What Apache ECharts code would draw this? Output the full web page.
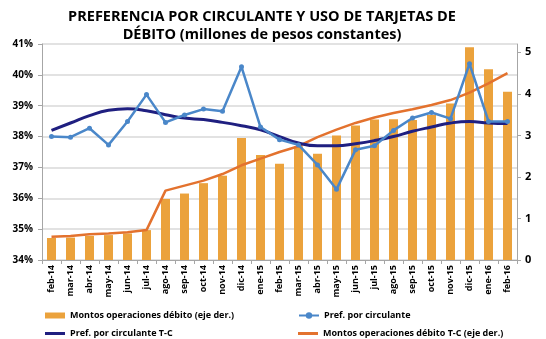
<!DOCTYPE html>
<html>
<head>
<meta charset="utf-8">
<script src="https://cdn.jsdelivr.net/npm/echarts@6/dist/echarts.min.js"></script>
<style>
  html, body { margin: 0; padding: 0; background: #fff; }
  #chart { width: 546px; height: 339px; }
</style>
</head>
<body>
<div id="chart"></div>
<script>
// Monthly categories, Feb 2014 – Feb 2016
const months = ['feb-14','mar-14','abr-14','may-14','jun-14','jul-14','ago-14','sep-14','oct-14','nov-14','dic-14','ene-15','feb-15',
  'mar-15','abr-15','may-15','jun-15','jul-15','ago-15','sep-15','oct-15','nov-15','dic-15','ene-16','feb-16'];

// Debit card transaction amounts (right axis, millions of constant pesos)
const montosDebito = [0.53,0.54,0.58,0.60,0.64,0.72,1.47,1.60,1.85,2.03,2.94,2.53,2.32,
  2.74,2.56,3.00,3.24,3.38,3.39,3.37,3.49,3.77,5.12,4.59,4.05];

// Trend-cycle of debit amounts (right axis)
const montosDebitoTC = [0.56,0.58,0.62,0.64,0.67,0.72,1.67,1.79,1.91,2.07,2.28,2.44,2.60,
  2.74,2.96,3.14,3.30,3.43,3.54,3.63,3.73,3.85,4.03,4.25,4.50];

// Cash preference (left axis, %)
const prefCirculante = [38.00,37.98,38.27,37.73,38.49,39.36,38.46,38.70,38.89,38.82,40.26,38.31,37.90,
  37.73,37.08,36.29,37.57,37.70,38.20,38.60,38.78,38.58,40.36,38.49,38.49];

// Trend-cycle of cash preference (left axis, %)
const prefCirculanteTC = [38.20,38.44,38.68,38.85,38.90,38.84,38.71,38.60,38.55,38.46,38.35,38.22,38.00,
  37.79,37.70,37.70,37.77,37.87,38.00,38.17,38.31,38.44,38.49,38.44,38.42];

const leftTicks = { min: 34, max: 41, step: 1 };
const rightTicks = { min: 0, max: 5.2, step: 1 };

const names = {
  bar: 'Montos operaciones débito (eje der.)',
  pref: 'Pref. por circulante',
  prefTC: 'Pref. por circulante T-C',
  barTC: 'Montos operaciones débito T-C (eje der.)'
};

const FONT = '"Open Sans", "Liberation Sans", sans-serif';
const axisGray = '#A6A6A6';
const gridGray = '#D9D9D9';

const chart = echarts.init(document.getElementById('chart'), null, { renderer: 'canvas' });

const legendText = { fontFamily: FONT, fontWeight: 'bold', fontSize: 9, color: '#000' };

// kind: 'bar' -> filled swatch, 'plain' -> bare line, 'marker' -> line with dot
function legendAt(name, left, top, kind) {
  const item = { name: name };
  let h = 8;
  if (kind === 'bar') { item.icon = 'rect'; h = 6; }
  if (kind === 'plain') { item.icon = 'rect'; h = 3; }
  return {
    data: [item],
    left: left, top: top,
    itemWidth: 20, itemHeight: h,
    itemGap: 4, padding: 0,
    textStyle: legendText
  };
}

chart.setOption({
  animation: false,
  graphic: [{
    type: 'text',
    x: 262, y: 8,
    style: {
      text: 'PREFERENCIA POR CIRCULANTE Y USO DE TARJETAS DE\nDÉBITO (millones de pesos constantes)',
      textAlign: 'center',
      font: 'bold 14.5px ' + FONT,
      lineHeight: 18,
      fill: '#000'
    }
  }],
  grid: { left: 42, right: 29, top: 44, bottom: 79, containLabel: false },
  legend: [
    legendAt(names.bar, 45, 311, 'bar'),
    legendAt(names.pref, 298, 311, 'marker'),
    legendAt(names.prefTC, 45, 329, 'plain'),
    legendAt(names.barTC, 298, 329, 'plain')
  ],
  xAxis: {
    type: 'category',
    data: months,
    boundaryGap: true,
    axisLine: { lineStyle: { color: axisGray, width: 1 } },
    axisTick: { show: true, interval: 0, length: 4, lineStyle: { color: axisGray } },
    axisLabel: {
      interval: 0, rotate: 90, margin: 5,
      fontFamily: FONT, fontWeight: 'bold', fontSize: 9, color: '#000'
    }
  },
  yAxis: [{
    type: 'value',
    min: leftTicks.min, max: leftTicks.max, interval: leftTicks.step,
    axisLine: { show: true, lineStyle: { color: axisGray } },
    axisTick: { show: true, length: 4, lineStyle: { color: axisGray } },
    axisLabel: {
      formatter: '{value}%', margin: 9,
      fontFamily: FONT, fontWeight: 'bold', fontSize: 10, color: '#000'
    },
    splitLine: { show: true, lineStyle: { color: gridGray, width: 1.5 } }
  }, {
    type: 'value',
    min: rightTicks.min, max: rightTicks.max, interval: rightTicks.step,
    axisLine: { show: true, lineStyle: { color: axisGray } },
    axisTick: { show: true, length: 4, lineStyle: { color: axisGray } },
    axisLabel: {
      showMaxLabel: false, margin: 8,
      fontFamily: FONT, fontWeight: 'bold', fontSize: 11, color: '#000'
    },
    splitLine: { show: false }
  }],
  series: [{
    name: names.bar,
    type: 'bar',
    yAxisIndex: 1,
    data: montosDebito,
    barWidth: 9,
    itemStyle: { color: '#EBA23C' },
    z: 1
  }, {
    name: names.barTC,
    type: 'line',
    yAxisIndex: 1,
    data: montosDebitoTC,
    showSymbol: false, symbol: 'none',
    lineStyle: { color: '#E3722E', width: 2.5 },
    itemStyle: { color: '#E3722E' },
    z: 2
  }, {
    name: names.prefTC,
    type: 'line',
    yAxisIndex: 0,
    data: prefCirculanteTC,
    smooth: true,
    showSymbol: false, symbol: 'none',
    lineStyle: { color: '#1F1F80', width: 3 },
    itemStyle: { color: '#1F1F80' },
    z: 3
  }, {
    name: names.pref,
    type: 'line',
    yAxisIndex: 0,
    data: prefCirculante,
    symbol: 'circle', symbolSize: 5,
    lineStyle: { color: '#4A87C9', width: 2.5 },
    itemStyle: { color: '#4A87C9' },
    z: 4
  }]
});
</script>
</body>
</html>
